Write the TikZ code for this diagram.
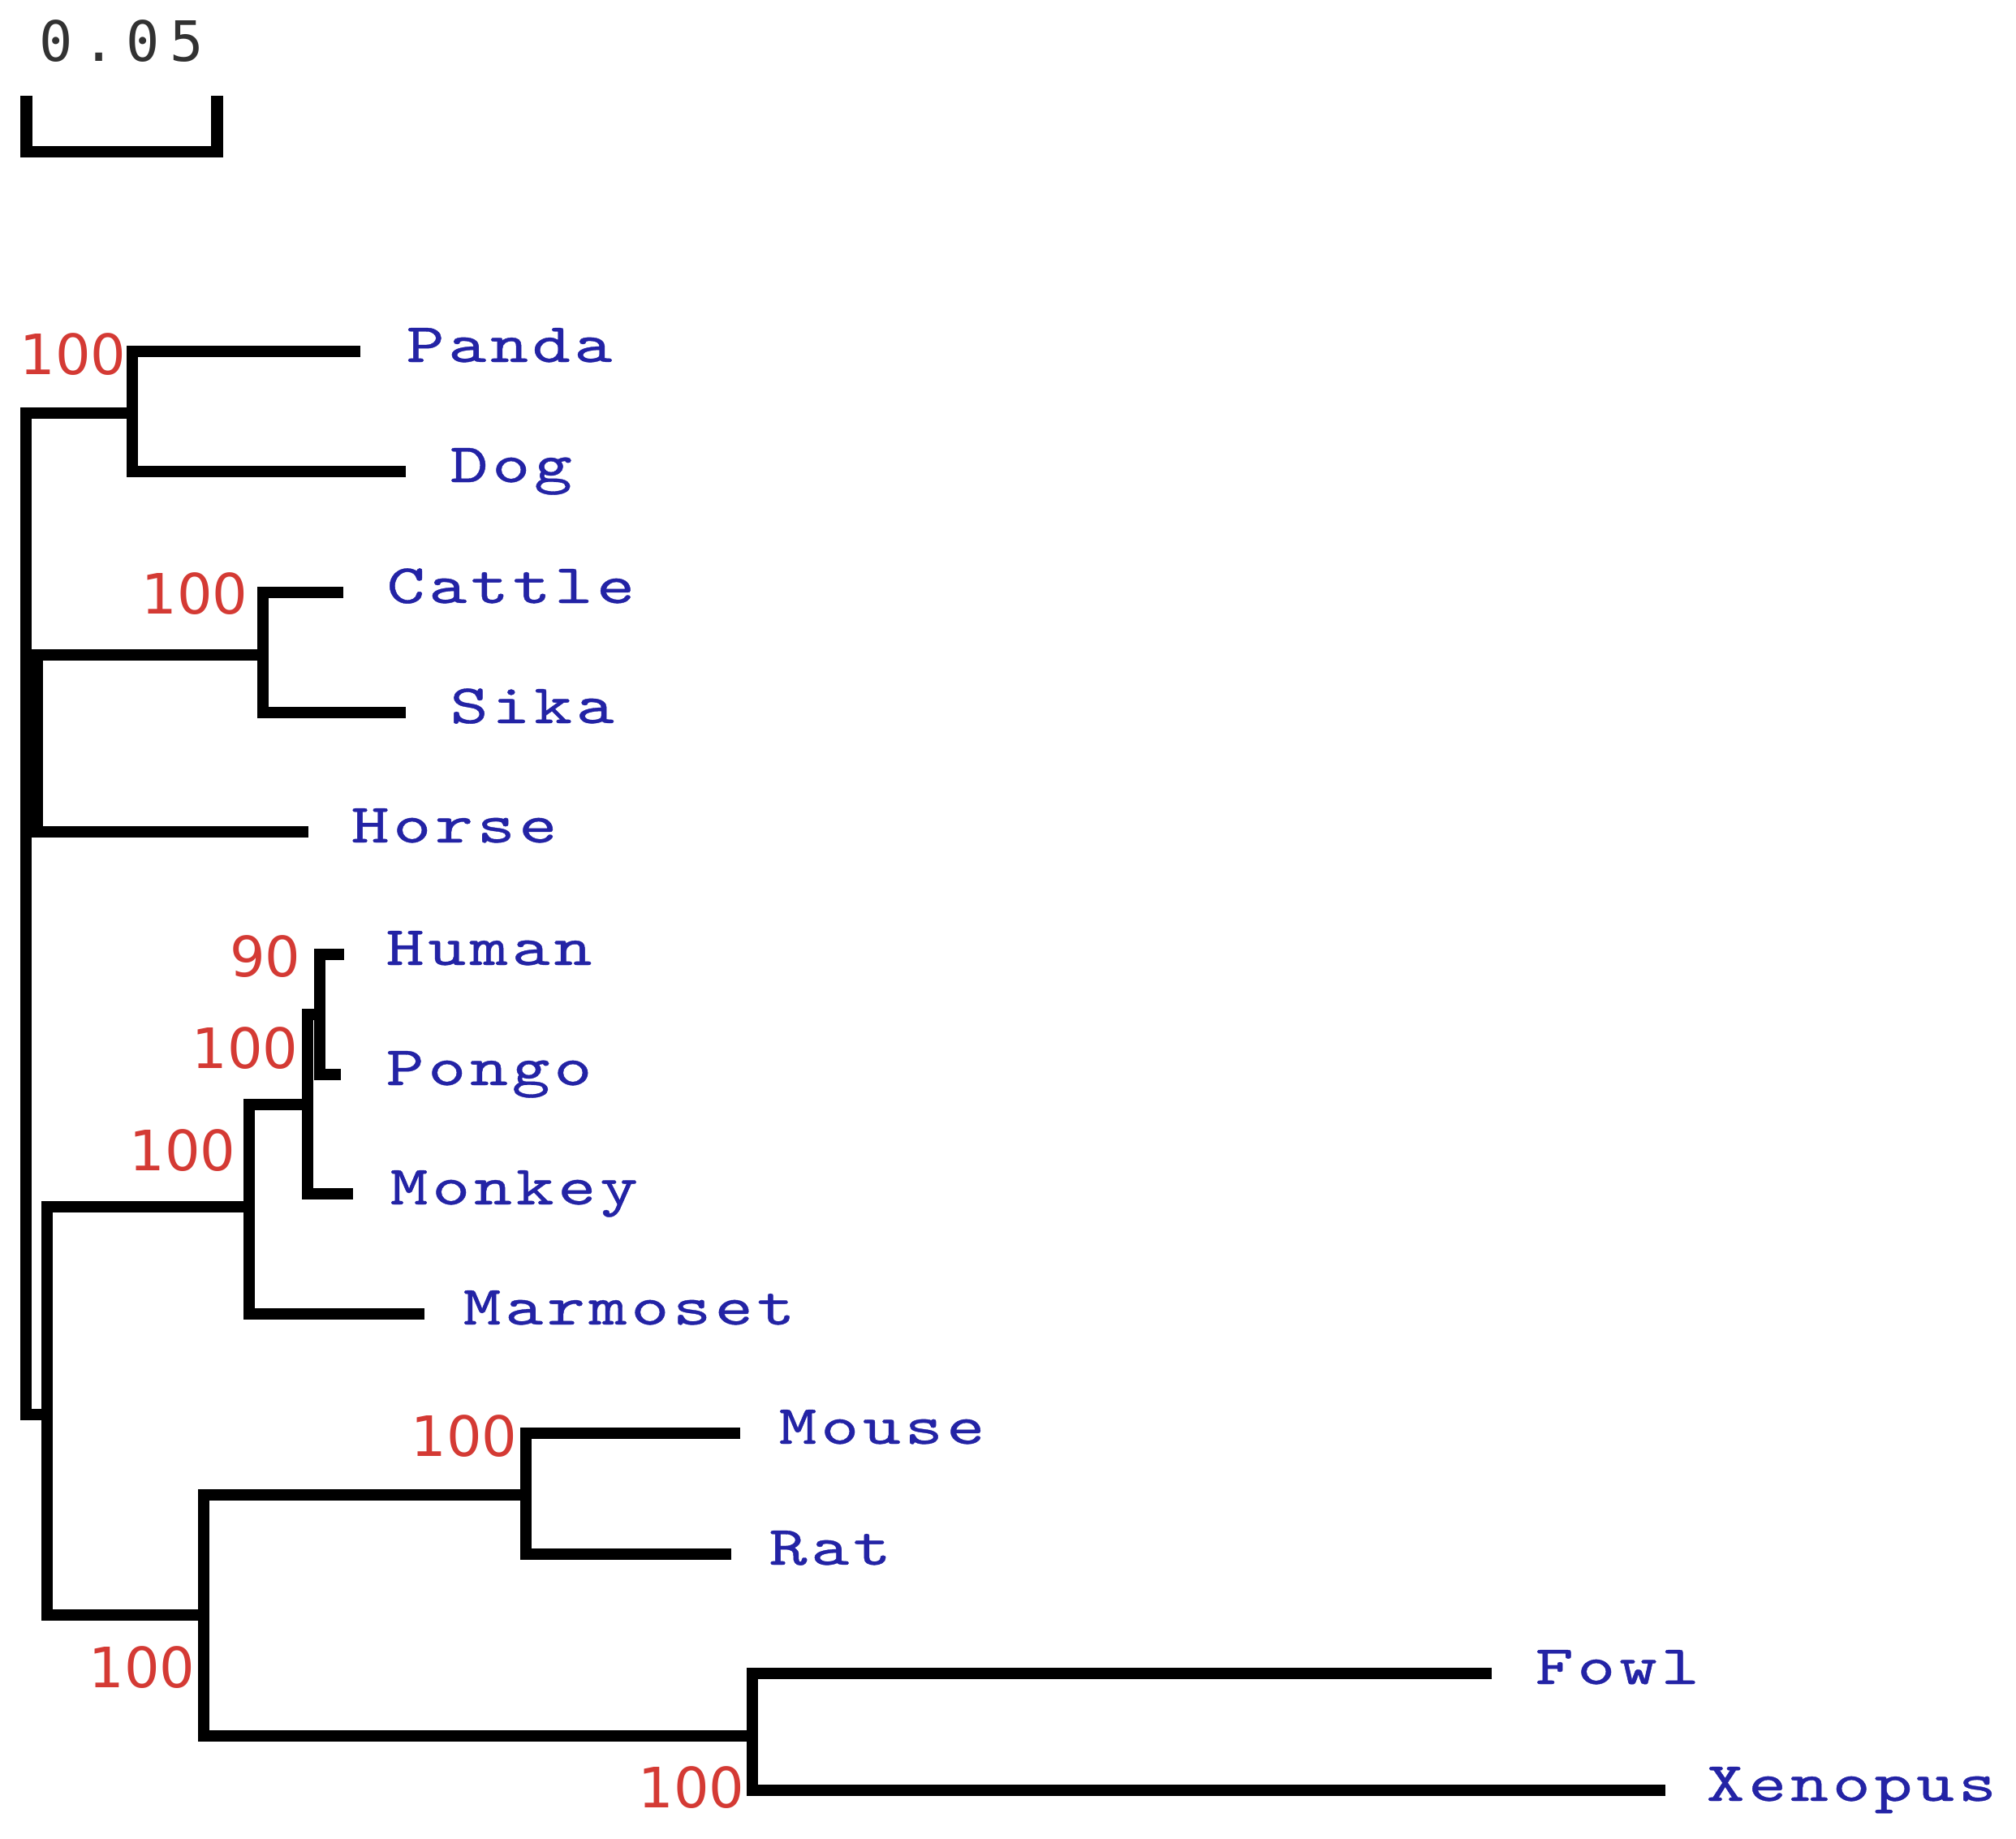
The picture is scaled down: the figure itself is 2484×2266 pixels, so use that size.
\documentclass[tikz,border=0pt]{standalone}
\usepackage{graphicx}
\usepackage{fontspec}
\newfontfamily\numfont{DejaVu Sans}
\newfontfamily\barfont[LetterSpace=18]{DejaVu Sans Mono}
\newfontfamily\taxfont[LetterSpace=5.5,FakeBold=0.5]{lmmono10-regular.otf}
\newcommand\taxname[1]{\scalebox{1.3}[1]{\fontsize{19.5pt}{22pt}\taxfont #1}}
\definecolor{taxblue}{RGB}{35,35,165}
\definecolor{bootred}{RGB}{212,58,52}
\definecolor{bargray}{RGB}{50,50,50}
\begin{document}
\begin{tikzpicture}[x=0.01cm,y=-0.01cm,
  branch/.style={draw=black,line width=4.2pt,line cap=butt,line join=miter},
  taxon/.style={text=taxblue,inner sep=0pt,anchor=base west},
  boot/.style={text=bootred,inner sep=0pt,anchor=east,font=\numfont\fontsize{19.5pt}{24pt}\selectfont},
  barlabel/.style={text=bargray,inner sep=0pt,anchor=base west,font=\barfont\fontsize{19.5pt}{23pt}\selectfont}]
\fill[white] (0,0) rectangle (2484,2266);
\useasboundingbox (0,0) rectangle (2484,2266);

% scale bar
\coordinate (sbA) at (32.5,118);
\coordinate (sbB) at (32.5,187);
\coordinate (sbC) at (267.5,187);
\coordinate (sbD) at (267.5,118);
\draw[branch] (sbA) -- (sbB) -- (sbC) -- (sbD);
\node[barlabel] (sbtext) at (47.5,75) {0.05};

% internal nodes and leaf ends
\coordinate (rootTop) at (32,509);
\coordinate (rootBot) at (32,1743);
\coordinate (pd) at (163,509);
\coordinate (pdA) at (163,433);
\coordinate (pdB) at (163,581);
\coordinate (pandaEnd) at (444,433);
\coordinate (dogEnd) at (500,581);

\coordinate (chA) at (46,807);
\coordinate (chB) at (46,1025);
\coordinate (cs) at (324,807);
\coordinate (csA) at (324,730);
\coordinate (csB) at (324,878);
\coordinate (cattleEnd) at (423,730);
\coordinate (sikaEnd) at (500,878);
\coordinate (horseEnd) at (380,1025);

\coordinate (lowStub) at (58,1743);
\coordinate (lowA) at (58,1487);
\coordinate (lowB) at (58,1990);
\coordinate (mm) at (307,1487);
\coordinate (mmA) at (307,1361);
\coordinate (mmB) at (307,1619);
\coordinate (marmEnd) at (523,1619);
\coordinate (hpm) at (379,1361);
\coordinate (hpmA) at (379,1250);
\coordinate (hpmB) at (379,1471);
\coordinate (monkeyEnd) at (435,1471);
\coordinate (hp) at (394,1250);
\coordinate (hpA) at (394,1176);
\coordinate (hpB) at (394,1324);
\coordinate (humanEnd) at (424,1176);
\coordinate (pongoEnd) at (420,1324);

\coordinate (rf) at (251,1990);
\coordinate (rfA) at (251,1842);
\coordinate (rfB) at (251,2139);
\coordinate (mr) at (648,1842);
\coordinate (mrA) at (648,1766);
\coordinate (mrB) at (648,1915);
\coordinate (mouseEnd) at (912,1766);
\coordinate (ratEnd) at (901,1915);
\coordinate (fx) at (927,2139);
\coordinate (fxA) at (927,2062);
\coordinate (fxB) at (927,2206);
\coordinate (fowlEnd) at (1838,2062);
\coordinate (xenEnd) at (2052,2206);

% branches
\draw[branch] (pd) -- (rootTop) -- (rootBot) -- (lowStub);
\draw[branch] (pandaEnd) -- (pdA) -- (pdB) -- (dogEnd);
\draw[branch] (cs) -- (chA) -- (chB) -- (horseEnd);
\draw[branch] (cattleEnd) -- (csA) -- (csB) -- (sikaEnd);
\draw[branch] (mm) -- (lowA) -- (lowB) -- (rf);
\draw[branch] (hpm) -- (mmA) -- (mmB) -- (marmEnd);
\draw[branch] (hp) -- (hpmA) -- (hpmB) -- (monkeyEnd);
\draw[branch] (humanEnd) -- (hpA) -- (hpB) -- (pongoEnd);
\draw[branch] (mr) -- (rfA) -- (rfB) -- (fx);
\draw[branch] (mouseEnd) -- (mrA) -- (mrB) -- (ratEnd);
\draw[branch] (fowlEnd) -- (fxA) -- (fxB) -- (xenEnd);

% taxa
\node[taxon] (panda) at (500,446) {\taxname{Panda}};
\node[taxon] (dog) at (554,594) {\taxname{Dog}};
\node[taxon] (cattle) at (476,743) {\taxname{Cattle}};
\node[taxon] (sika) at (554,891) {\taxname{Sika}};
\node[taxon] (horse) at (432,1038) {\taxname{Horse}};
\node[taxon] (human) at (475,1189) {\taxname{Human}};
\node[taxon] (pongo) at (475,1337) {\taxname{Pongo}};
\node[taxon] (monkey) at (480,1484) {\taxname{Monkey}};
\node[taxon] (marmoset) at (570,1632) {\taxname{Marmoset}};
\node[taxon] (mouse) at (959,1779) {\taxname{Mouse}};
\node[taxon] (rat) at (947,1928) {\taxname{Rat}};
\node[taxon] (fowl) at (1891,2075) {\taxname{Fowl}};
\node[taxon] (xenopus) at (2102,2219) {\taxname{Xenopus}};

% bootstrap values
\node[boot] (bpd) at (156,437) {100};
\node[boot] (bcs) at (306,732) {100};
\node[boot] (bhp) at (371,1179) {90};
\node[boot] (bhpm) at (368,1292) {100};
\node[boot] (bmm) at (291,1418) {100};
\node[boot] (bmr) at (638,1770) {100};
\node[boot] (brf) at (241,2055) {100};
\node[boot] (bfx) at (918,2203) {100};
\end{tikzpicture}
\end{document}
